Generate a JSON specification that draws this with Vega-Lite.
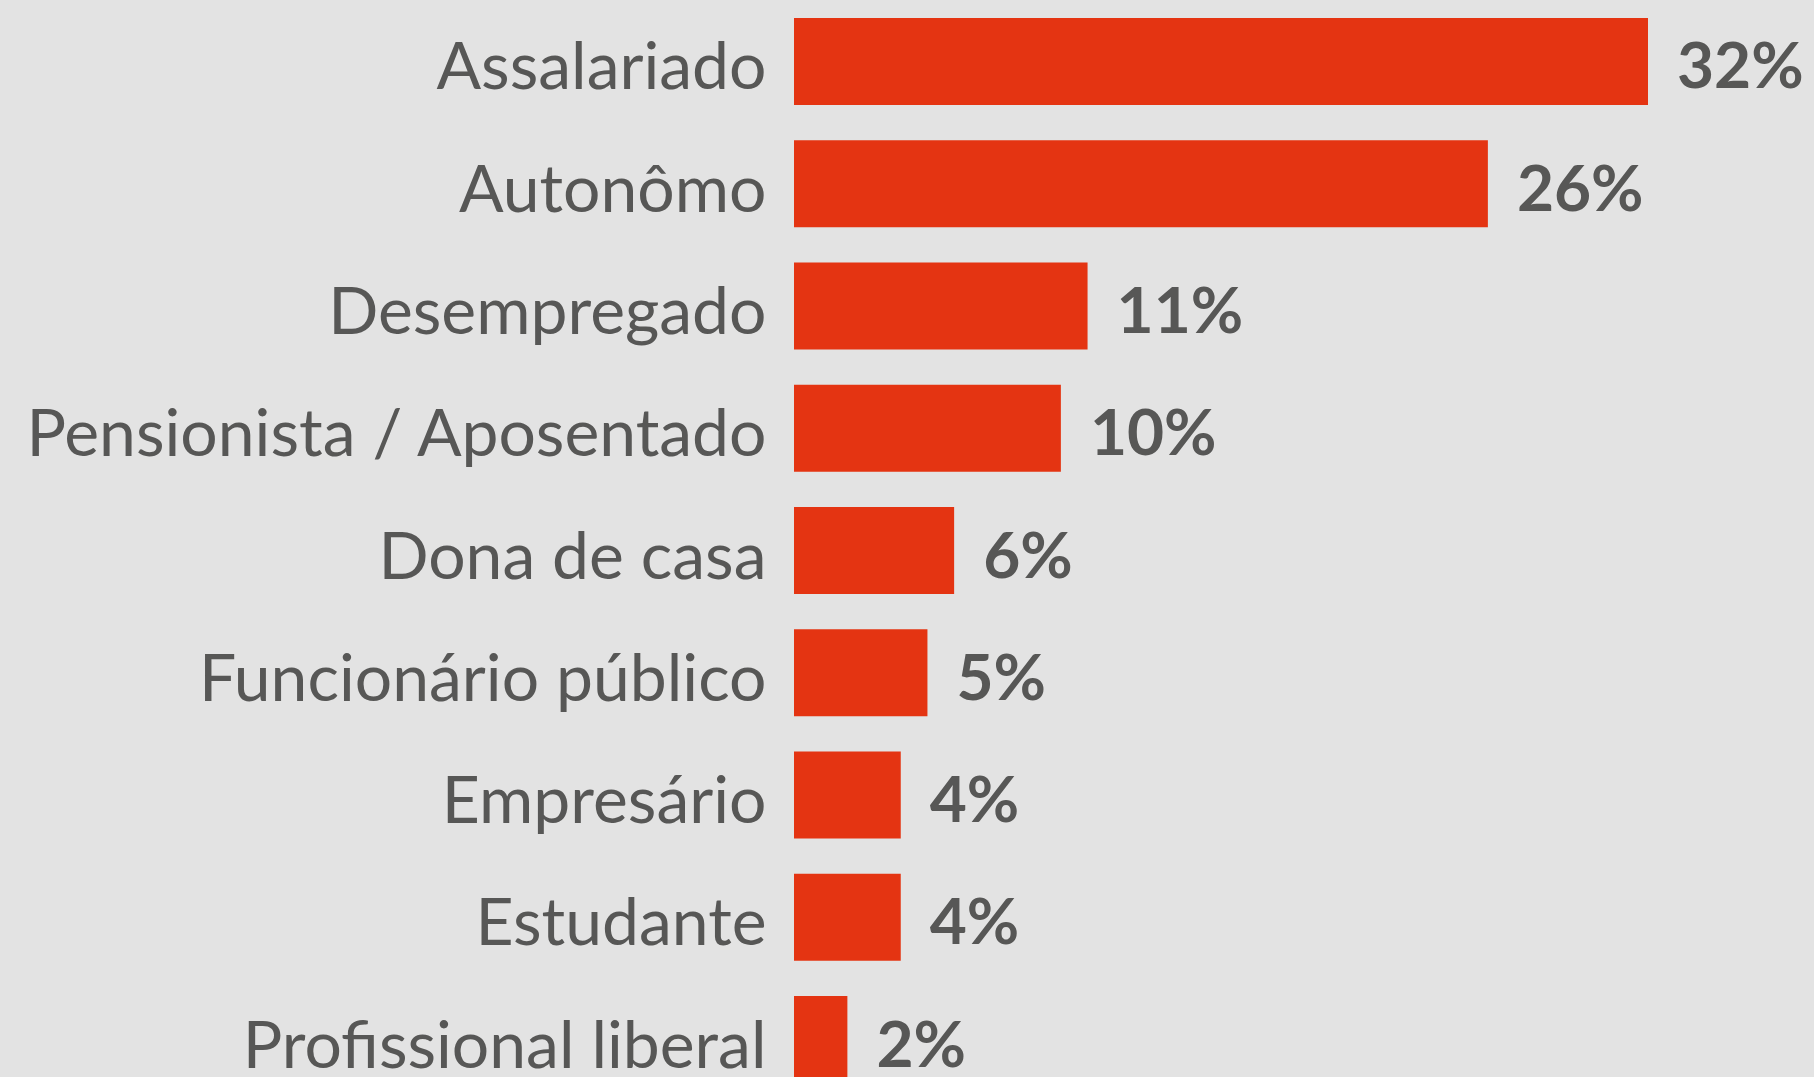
{
  "$schema": "https://vega.github.io/schema/vega-lite/v6.json",
  "autosize": {"type": "none"},
  "padding": {"left": 794, "top": 18, "right": 166, "bottom": 0},
  "width": 854,
  "height": 1065,
  "background": "#e3e3e3",
  "data": {
    "values": [
      {"categoria": "Assalariado", "pct": 32, "rotulo": "32%"},
      {"categoria": "Autonômo", "pct": 26, "rotulo": "26%"},
      {"categoria": "Desempregado", "pct": 11, "rotulo": "11%"},
      {"categoria": "Pensionista / Aposentado", "pct": 10, "rotulo": "10%"},
      {"categoria": "Dona de casa", "pct": 6, "rotulo": "6%"},
      {"categoria": "Funcionário público", "pct": 5, "rotulo": "5%"},
      {"categoria": "Empresário", "pct": 4, "rotulo": "4%"},
      {"categoria": "Estudante", "pct": 4, "rotulo": "4%"},
      {"categoria": "Profissional liberal", "pct": 2, "rotulo": "2%"}
    ]
  },
  "encoding": {
    "y": {
      "field": "categoria",
      "type": "nominal",
      "sort": null,
      "scale": {"paddingInner": 0.2886, "paddingOuter": 0},
      "axis": {
        "title": null,
        "domain": false,
        "ticks": false,
        "labelPadding": 28,
        "labelFontSize": 66,
        "labelFont": "Lato",
        "labelColor": "#575756",
        "labelLimit": 0,
        "labelOffset": 8
      }
    },
    "x": {
      "field": "pct",
      "type": "quantitative",
      "scale": {"domain": [0, 32], "nice": false, "zero": true},
      "axis": null
    }
  },
  "layer": [
    {"mark": {"type": "bar", "color": "#e43412"}},
    {
      "mark": {
        "type": "text",
        "align": "left",
        "baseline": "middle",
        "dx": 29,
        "dy": 8,
        "fontSize": 64,
        "font": "Lato",
        "fontWeight": "bold",
        "color": "#575756"
      },
      "encoding": {"text": {"field": "rotulo"}}
    }
  ],
  "config": {"view": {"stroke": null}}
}
